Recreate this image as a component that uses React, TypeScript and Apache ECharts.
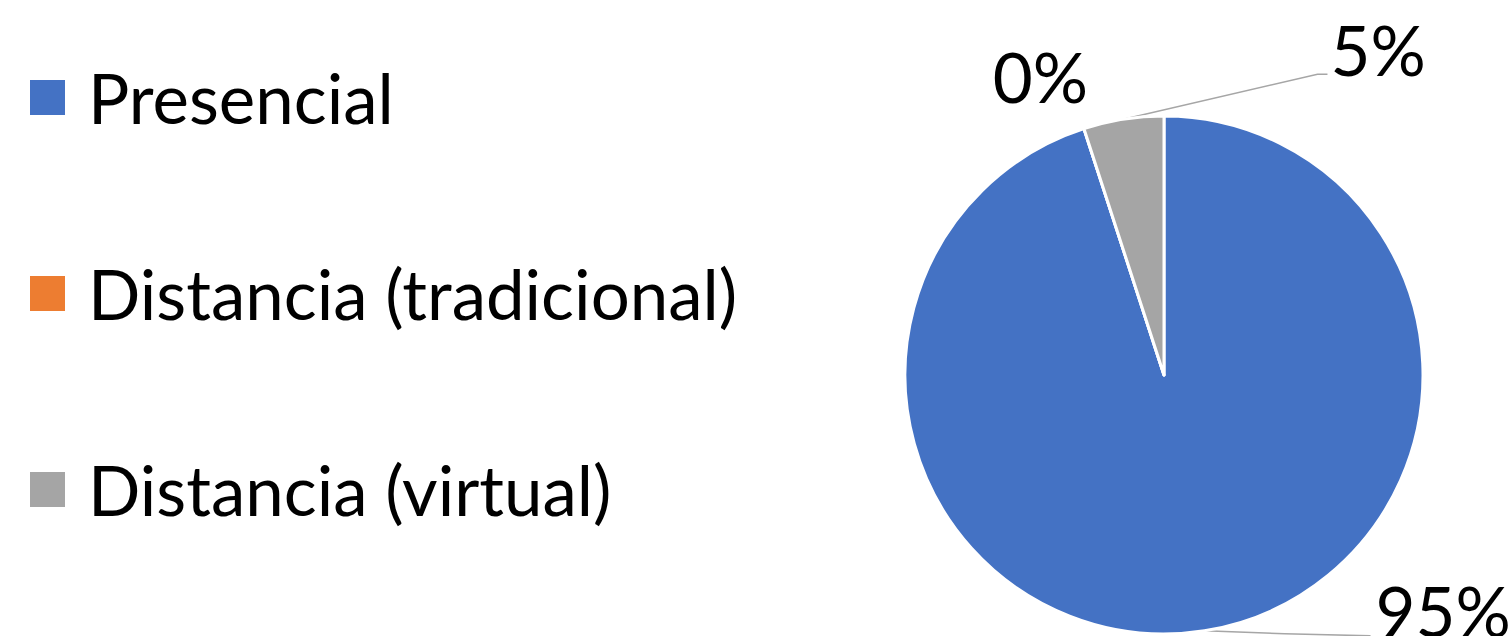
import React, { useEffect, useRef } from "react";
import * as echarts from "echarts";

const categories = ["Presencial", "Distancia (tradicional)", "Distancia (virtual)"];
const values = [95, 0, 5];
const colors = ["#4472C4", "#ED7D31", "#A5A5A5"];

const CX = 1164;
const CY = 375;
const R = 259;
const FONT = "Lato, 'Noto Sans', sans-serif";
const FS = 69;

function anchorFor(i: number) {
  const total = values.reduce((a, b) => a + b, 0);
  let before = 0;
  for (let k = 0; k < i; k++) before += values[k];
  const midDeg = 90 - ((before + values[i] / 2) / total) * 360;
  const rad = (midDeg * Math.PI) / 180;
  return [CX + R * Math.cos(rad), CY - R * Math.sin(rad)];
}

export default function App() {
  const ref = useRef<HTMLDivElement>(null);
  useEffect(() => {
    if (!ref.current) return;
    const chart = echarts.init(ref.current, undefined, { renderer: "svg" });
    chart.setOption({
      animation: false,
      color: colors,
      legend: {
        orient: "vertical",
        left: 28,
        top: 63,
        padding: 0,
        itemWidth: 37,
        itemHeight: 37,
        itemGap: 127,
        icon: "rect",
        data: categories,
        textStyle: { fontFamily: FONT, fontSize: FS, color: "#000", padding: [0, 0, 10, 17] },
      },
      series: [
        {
          type: "pie",
          center: [CX, CY],
          radius: R,
          startAngle: 90,
          clockwise: true,
          avoidLabelOverlap: false,
          itemStyle: { borderColor: "#fff", borderWidth: 3 },
          label: {
            show: true,
            position: "outside",
            formatter: "{d}%",
            fontFamily: FONT,
            fontSize: FS,
            color: "#000",
          },
          labelLine: { show: true, lineStyle: { color: "#A6A6A6", width: 1.5 } },
          labelLayout: (params: any) => {
            const i = params.dataIndex;
            const a = anchorFor(i);
            if (i === 0) {
              return {
                x: a[0] + 171,
                y: a[1] - 20,
                align: "left",
                verticalAlign: "middle",
                labelLinePoints: [a, [a[0] + 80, a[1] + 3], [a[0] + 166, a[1] + 5]],
              };
            }
            if (i === 1) {
              return {
                x: a[0] + 4,
                y: a[1] - 52,
                align: "right",
                verticalAlign: "middle",
                labelLinePoints: [a, a, a],
              };
            }
            return {
              x: a[0] + 207,
              y: a[1] - 70,
              align: "left",
              verticalAlign: "middle",
              labelLinePoints: [a, [a[0] + 194, a[1] - 45], [a[0] + 204, a[1] - 45]],
            };
          },
          data: categories.map((name, i) => ({
            name,
            value: values[i],
            labelLine: i === 1 ? { show: false } : undefined,
          })),
        },
      ],
    });
    return () => chart.dispose();
  }, []);
  return (
    <div
      ref={ref}
      style={{ position: "fixed", left: 0, top: 0, width: 1512, height: 636, background: "#fff" }}
    />
  );
}
